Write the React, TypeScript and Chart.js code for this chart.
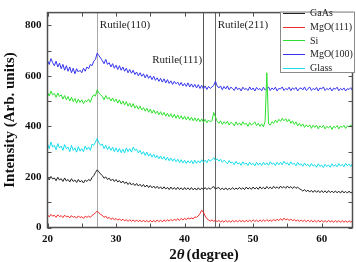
import React, { useEffect, useRef } from 'react';
import { Chart, registerables } from 'chart.js';

Chart.register(...registerables);

// 2θ sampling: start angle and step (degrees)
const angleStart = 20;
const angleStep = 0.25;

const seriesNames = ['GaAs', 'MgO(111)', 'Si', 'MgO(100)', 'Glass'];
const seriesColors = ['#222222', '#f02a2a', '#2ee02e', '#3535ee', '#18dcec'];

const gaAs = [
  198, 188, 202, 192, 196, 185, 199, 188, 193, 182, 196, 184, 190, 180, 193, 182,
  188, 178, 190, 180, 186, 176, 188, 182, 190, 185, 198, 205, 218, 228, 220, 212,
  205, 195, 200, 190, 195, 185, 192, 182, 190, 180, 186, 176, 184, 174, 180, 170,
  178, 168, 175, 166, 174, 164, 171, 162, 170, 160, 168, 158, 166, 157, 164, 155,
  163, 154, 161, 152, 161, 152, 159, 150, 160, 151, 158, 150, 159, 150, 157, 149,
  158, 150, 157, 149, 158, 149, 156, 148, 157, 149, 156, 150, 158, 150, 157, 151,
  158, 162, 152, 156, 158, 150, 156, 149, 157, 149, 155, 150, 158, 150, 156, 151,
  159, 151, 157, 150, 160, 152, 158, 151, 160, 152, 159, 151, 161, 153, 159, 152,
  162, 154, 160, 153, 163, 155, 161, 154, 164, 156, 162, 155, 164, 156, 162, 154,
  162, 155, 160, 153, 150, 144, 150, 142, 148, 140, 147, 139, 147, 139, 146, 138,
  146, 138, 145, 137, 146, 138, 144, 137, 145, 137, 144, 136, 145, 137, 143, 136,
  144, 136, 143, 135, 140,
];

const mgo111 = [
  50, 42, 52, 45, 48, 40, 50, 43, 47, 39, 49, 42, 45, 38, 47, 40,
  44, 37, 46, 39, 43, 36, 45, 40, 45, 40, 48, 52, 58, 65, 58, 52,
  48, 40, 45, 36, 40, 32, 38, 30, 36, 29, 34, 27, 33, 26, 31, 24,
  31, 24, 30, 23, 30, 23, 29, 22, 29, 22, 28, 21, 29, 22, 28, 22,
  30, 23, 29, 22, 30, 24, 31, 25, 32, 26, 33, 28, 34, 28, 36, 30,
  36, 31, 38, 34, 38, 34, 42, 40, 46, 55, 68, 60, 45, 35, 30, 25,
  30, 24, 29, 23, 28, 22, 27, 21, 28, 22, 27, 21, 28, 22, 28, 22,
  29, 23, 28, 22, 29, 23, 29, 23, 30, 24, 29, 23, 30, 24, 30, 24,
  31, 25, 30, 24, 32, 26, 33, 27, 35, 28, 37, 30, 34, 28, 33, 27,
  31, 25, 30, 24, 30, 24, 29, 23, 29, 23, 28, 22, 28, 22, 28, 22,
  28, 22, 27, 21, 28, 22, 27, 21, 27, 21, 27, 21, 27, 21, 26, 20,
  27, 21, 26, 20, 25,
];

const si = [
  535, 520, 540, 525, 530, 515, 532, 518, 525, 508, 522, 505, 518, 500, 515, 498,
  510, 492, 508, 495, 505, 490, 502, 498, 508, 495, 515, 525, 520, 545, 532, 525,
  518, 505, 522, 508, 515, 500, 512, 498, 508, 492, 505, 488, 500, 485, 498, 480,
  492, 476, 490, 472, 482, 468, 480, 465, 474, 460, 472, 456, 468, 452, 465, 450,
  460, 446, 458, 444, 455, 440, 452, 438, 450, 435, 448, 432, 445, 430, 442, 428,
  440, 426, 438, 424, 436, 422, 434, 420, 432, 418, 430, 416, 428, 414, 425, 418,
  422, 455, 438, 420, 412, 422, 408, 418, 410, 420, 405, 416, 412, 402, 418, 406,
  414, 404, 418, 408, 412, 400, 415, 405, 410, 418, 403, 412, 400, 410, 398, 420,
  612, 410, 405, 418, 412, 425, 415, 428, 420, 432, 422, 430, 418, 428, 412, 422,
  408, 418, 402, 412, 400, 410, 396, 406, 398, 406, 392, 404, 396, 405, 390, 402,
  395, 404, 390, 400, 394, 402, 388, 400, 395, 403, 390, 401, 396, 404, 392, 402,
  398, 406, 394, 404, 402,
];

const mgo100 = [
  660, 645, 668, 652, 640, 658, 635, 650, 628, 645, 622, 640, 618, 635, 612, 630,
  608, 628, 615, 622, 612, 630, 618, 635, 628, 645, 640, 658, 665, 690, 680, 670,
  660, 648, 665, 645, 652, 635, 648, 630, 642, 625, 640, 622, 635, 618, 630, 612,
  625, 610, 622, 605, 615, 600, 612, 598, 608, 592, 605, 590, 600, 585, 598, 582,
  592, 578, 590, 575, 588, 572, 585, 570, 580, 566, 578, 568, 575, 562, 574, 560,
  570, 558, 572, 556, 568, 555, 566, 552, 565, 550, 562, 548, 560, 546, 558, 550,
  556, 562, 578, 560, 552, 560, 545, 558, 548, 560, 545, 555, 550, 542, 556, 545,
  552, 540, 555, 546, 550, 542, 556, 544, 552, 540, 554, 545, 550, 541, 555, 544,
  548, 556, 542, 552, 545, 555, 540, 550, 548, 556, 542, 550, 545, 555, 541, 552,
  546, 554, 540, 550, 552, 544, 556, 542, 548, 556, 542, 550, 545, 554, 540, 552,
  548, 556, 542, 550, 545, 553, 540, 551, 547, 555, 541, 550, 544, 552, 540, 549,
  546, 553, 541, 548, 545,
];

const glass = [
  330, 312, 338, 318, 325, 308, 332, 315, 322, 305, 328, 312, 318, 300, 325, 305,
  315, 298, 320, 302, 312, 300, 322, 308, 318, 305, 330, 325, 338, 352, 335, 325,
  330, 312, 325, 308, 320, 305, 318, 300, 315, 298, 312, 296, 310, 295, 315, 300,
  312, 298, 318, 305, 310, 295, 305, 290, 300, 285, 298, 282, 292, 278, 290, 275,
  285, 272, 283, 270, 280, 266, 278, 264, 275, 262, 272, 260, 270, 257, 268, 255,
  266, 253, 264, 255, 265, 252, 266, 254, 264, 255, 268, 258, 266, 256, 270, 262,
  268, 276, 265, 272, 262, 270, 258, 266, 260, 252, 265, 255, 258, 248, 262, 252,
  256, 246, 260, 250, 255, 245, 258, 248, 254, 244, 258, 247, 255, 245, 258, 248,
  256, 246, 260, 250, 255, 245, 258, 248, 258, 248, 262, 252, 256, 246, 260, 250,
  254, 244, 258, 247, 252, 242, 255, 245, 250, 240, 253, 243, 248, 238, 252, 242,
  247, 237, 250, 241, 248, 238, 252, 242, 249, 240, 253, 243, 250, 240, 254, 244,
  251, 241, 254, 245, 248,
];

const seriesValues = [gaAs, mgo111, si, mgo100, glass];

const xTickValues = [20, 30, 40, 50, 60];
const yTickValues = [0, 200, 400, 600, 800];
const xMinorTicks = [20, 25, 30, 35, 40, 45, 50, 55, 60];
const yMinorTicks = [0, 100, 200, 300, 400, 500, 600, 700, 800];

const refLines = [27.2, 42.7, 44.4];
const refLineColors = ['#a8a8a8', '#555555', '#666666'];
const refLabels = ['Rutile(110)', 'Rutile(111)', 'Rutile(211)'];
const refLabelY = [800, 662, 800];
const refLabelSide = ['right', 'left', 'right'];

const SERIF = '"Liberation Serif", "Times New Roman", Times, serif';

const decorPlugin = {
  id: 'decor',
  beforeDatasetsDraw(chart: any) {
    const { ctx, chartArea: a, scales } = chart;
    const x = scales.x;
    ctx.save();
    refLines.forEach((v, i) => {
      const px = Math.round(x.getPixelForValue(v)) + 0.5;
      ctx.strokeStyle = refLineColors[i];
      ctx.lineWidth = 1;
      ctx.beginPath();
      ctx.moveTo(px, a.top);
      ctx.lineTo(px, a.bottom);
      ctx.stroke();
    });
    ctx.restore();
  },
  afterDraw(chart: any) {
    const { ctx, chartArea: a, scales } = chart;
    const x = scales.x;
    const y = scales.y;
    ctx.save();

    // annotations
    ctx.font = `11px ${SERIF}`;
    ctx.fillStyle = '#222';
    ctx.textBaseline = 'middle';
    refLabels.forEach((t, i) => {
      const px = x.getPixelForValue(refLines[i]);
      const py = y.getPixelForValue(refLabelY[i]);
      if (refLabelSide[i] === 'right') {
        ctx.textAlign = 'left';
        ctx.fillText(t, px + 3, py);
      } else {
        ctx.textAlign = 'right';
        ctx.fillText(t, px - 1, py);
      }
    });

    // frame
    ctx.strokeStyle = '#505050';
    ctx.lineWidth = 1.5;
    ctx.strokeRect(a.left, a.top, a.right - a.left, a.bottom - a.top);

    // inward ticks
    ctx.lineWidth = 1;
    ctx.strokeStyle = '#505050';
    const tl = 4;
    xMinorTicks.forEach((v) => {
      const px = Math.round(x.getPixelForValue(v)) + 0.5;
      ctx.beginPath();
      ctx.moveTo(px, a.bottom);
      ctx.lineTo(px, a.bottom - tl);
      ctx.moveTo(px, a.top);
      ctx.lineTo(px, a.top + tl);
      ctx.stroke();
    });
    yMinorTicks.forEach((v) => {
      const py = Math.round(y.getPixelForValue(v)) + 0.5;
      ctx.beginPath();
      ctx.moveTo(a.left, py);
      ctx.lineTo(a.left + tl, py);
      ctx.moveTo(a.right, py);
      ctx.lineTo(a.right - tl, py);
      ctx.stroke();
    });

    // legend (drawn over the frame)
    const lgLeft = 280.5;
    const lgRight = 354.5;
    const lgTop = a.top - 0.5;
    const lgBottom = 72.5;
    ctx.fillStyle = '#ffffff';
    ctx.fillRect(lgLeft, lgTop, lgRight - lgLeft, lgBottom - lgTop);
    ctx.strokeStyle = '#8a8a8a';
    ctx.lineWidth = 1;
    ctx.strokeRect(lgLeft, lgTop, lgRight - lgLeft, lgBottom - lgTop);
    ctx.font = `10px ${SERIF}`;
    ctx.textAlign = 'left';
    ctx.textBaseline = 'middle';
    seriesNames.forEach((n, i) => {
      const cy = 13 + i * 13.7;
      ctx.strokeStyle = seriesColors[i];
      ctx.lineWidth = 1;
      ctx.beginPath();
      ctx.moveTo(283, Math.round(cy) + 0.5);
      ctx.lineTo(305, Math.round(cy) + 0.5);
      ctx.stroke();
      ctx.fillStyle = '#222';
      ctx.fillText(n, 310, cy + 0.5);
    });

    // y title
    ctx.fillStyle = '#111';
    ctx.font = `bold 15px ${SERIF}`;
    ctx.save();
    ctx.translate(10, (a.top + a.bottom) / 2);
    ctx.rotate(-Math.PI / 2);
    ctx.textAlign = 'center';
    ctx.textBaseline = 'middle';
    ctx.fillText('Intensity (Arb. units)', 0, 0);
    ctx.restore();

    // x title: 2θ(degree) with italic θ
    const p1 = '2';
    const p2 = 'θ';
    const p3 = '(degree)';
    ctx.textBaseline = 'alphabetic';
    ctx.textAlign = 'left';
    ctx.font = `bold 15px ${SERIF}`;
    const w1 = ctx.measureText(p1).width;
    const w3 = ctx.measureText(p3).width;
    ctx.font = `italic bold 15px ${SERIF}`;
    const w2 = ctx.measureText(p2).width;
    const total = w1 + w2 + w3 + 2;
    let sx = (a.left + a.right) / 2 + 4 - total / 2;
    const by = 259;
    ctx.font = `bold 15px ${SERIF}`;
    ctx.fillText(p1, sx, by);
    sx += w1;
    ctx.font = `italic bold 15px ${SERIF}`;
    ctx.fillText(p2, sx, by);
    sx += w2 + 2;
    ctx.font = `bold 15px ${SERIF}`;
    ctx.fillText(p3, sx, by);

    ctx.restore();
  },
};

export default function App() {
  const canvasRef = useRef<HTMLCanvasElement | null>(null);

  useEffect(() => {
    document.body.style.margin = '0';
    const canvas = canvasRef.current;
    if (!canvas) return;

    const datasets = seriesNames.map((name, si2) => ({
      label: name,
      data: seriesValues[si2].map((v, i) => ({ x: angleStart + i * angleStep, y: v })),
      borderColor: seriesColors[si2],
      backgroundColor: seriesColors[si2],
      borderWidth: 1,
      pointRadius: 0,
      tension: 0,
      fill: false,
    }));

    const chart = new Chart(canvas, {
      type: 'line',
      data: { datasets },
      options: {
        animation: false,
        responsive: false,
        devicePixelRatio: 1,
        layout: { padding: { left: 0, right: 3.5, top: 4, bottom: 0 } },
        plugins: {
          legend: { display: false },
          tooltip: { enabled: false },
        },
        scales: {
          x: {
            type: 'linear',
            min: 20,
            max: 64.5,
            grid: { display: false, drawTicks: false },
            border: { display: false },
            ticks: {
              padding: 5,
              color: '#111',
              font: { family: SERIF, size: 11, weight: 'bold' },
              maxRotation: 0,
            },
            afterBuildTicks: (s: any) => {
              s.ticks = xTickValues.map((v) => ({ value: v }));
            },
            afterFit: (s: any) => {
              s.height = 34.5;
            },
          },
          y: {
            type: 'linear',
            min: 0,
            max: 850,
            grid: { display: false, drawTicks: false },
            border: { display: false },
            ticks: {
              padding: 6,
              color: '#111',
              font: { family: SERIF, size: 11, weight: 'bold' },
            },
            afterBuildTicks: (s: any) => {
              s.ticks = yTickValues.map((v) => ({ value: v }));
            },
            afterFit: (s: any) => {
              s.width = 47.5;
            },
          },
        },
      } as any,
      plugins: [decorPlugin],
    });

    return () => chart.destroy();
  }, []);

  return (
    <div style={{ width: 356, height: 262 }}>
      <canvas ref={canvasRef} width={356} height={262} style={{ display: 'block', width: 356, height: 262 }} />
    </div>
  );
}
